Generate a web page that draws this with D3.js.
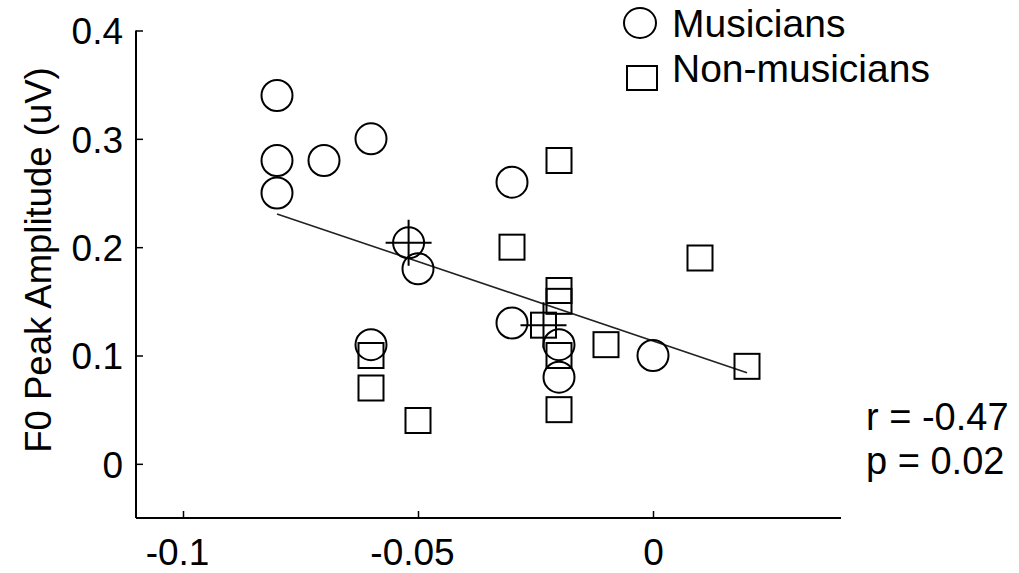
<!DOCTYPE html>
<html>
<head>
<meta charset="utf-8">
<script src="https://cdn.jsdelivr.net/npm/d3@7"></script>
<style>
  html, body { margin: 0; padding: 0; background: #fff; }
  svg { display: block; }
  text { font-family: "Liberation Sans", Arial, Helvetica, sans-serif; fill: #000; }
</style>
</head>
<body>
<svg id="chart" width="1019" height="573"></svg>
<script>
// ---- Data ----
const musiciansX = [-0.08, -0.08, -0.08, -0.07, -0.06, -0.05, -0.03, -0.03, -0.02, -0.02, 0.00, -0.06];
const musiciansY = [0.34, 0.28, 0.25, 0.28, 0.30, 0.18, 0.26, 0.13, 0.11, 0.08, 0.10, 0.11];
const nonMusiciansX = [-0.02, -0.03, 0.01, -0.02, -0.02, -0.02, -0.02, -0.01, 0.02, -0.06, -0.06, -0.05];
const nonMusiciansY = [0.28, 0.20, 0.19, 0.16, 0.15, 0.10, 0.05, 0.11, 0.09, 0.10, 0.07, 0.04];
const musicianMean = [-0.052, 0.204];
const nonMusicianMean = [-0.0233, 0.128];
const fitLineX = [-0.08, 0.02];
const fitLineY = [0.2307, 0.0841];
const xTicks = [-0.1, -0.05, 0];
const xTickLabels = ["-0.1", "-0.05", "0"];
const yTicks = [0, 0.1, 0.2, 0.3, 0.4];
const yTickLabels = ["0", "0.1", "0.2", "0.3", "0.4"];
const legendLabels = ["Musicians", "Non-musicians"];
const statsLabels = ["r = -0.47", "p = 0.02"];
const yAxisTitle = "F0 Peak Amplitude (uV)";

// ---- Layout ----
const svg = d3.select("#chart");
const x = d3.scaleLinear().domain([-0.11, 0.04]).range([136, 841]);
const y = d3.scaleLinear().domain([-0.05, 0.4]).range([518, 30.5]);
const FS = 37;

// axes
const xAxis = d3.axisBottom(x).tickValues(xTicks).tickSize(-7).tickSizeOuter(0)
  .tickFormat((d, i) => xTickLabels[i]);
const gx = svg.append("g").attr("transform", `translate(0,${y(-0.05)})`).call(xAxis);
gx.select(".domain").attr("stroke", "#000").attr("stroke-width", 2)
  .attr("d", `M${x(-0.11)},0H${x(0.04)}`);
gx.selectAll(".tick line").attr("stroke", "#000").attr("stroke-width", 1.5);
gx.selectAll(".tick text").attr("font-size", FS).attr("y", 47).attr("dy", 0)
  .attr("dx", (d, i) => xTickLabels[i].startsWith("-") ? -6 : 0)
  .attr("font-family", "Liberation Sans, Arial, sans-serif");

const yAxis = d3.axisLeft(y).tickValues(yTicks).tickSize(-7).tickSizeOuter(0)
  .tickFormat((d, i) => yTickLabels[i]);
const gy = svg.append("g").attr("transform", `translate(${x(-0.11)},0)`).call(yAxis);
gy.select(".domain").attr("stroke", "#000").attr("stroke-width", 2)
  .attr("d", `M0,${y(0.4)}V${y(-0.05)}`);
gy.selectAll(".tick line").attr("stroke", "#000").attr("stroke-width", 1.5);
gy.selectAll(".tick text").attr("font-size", FS).attr("x", -13).attr("dy", "0.36em")
  .attr("font-family", "Liberation Sans, Arial, sans-serif");

// y axis title
svg.append("text")
  .attr("transform", `translate(51,260) rotate(-90)`)
  .attr("text-anchor", "middle")
  .attr("font-size", 36.5)
  .text(yAxisTitle);

// regression line
const fitData = fitLineX.map((v, i) => [v, fitLineY[i]]);
svg.append("path")
  .datum(fitData)
  .attr("d", d3.line().x(d => x(d[0])).y(d => y(d[1])))
  .attr("fill", "none").attr("stroke", "#222").attr("stroke-width", 1.6);

// musicians circles
const mData = musiciansX.map((v, i) => [v, musiciansY[i]]);
svg.append("g").selectAll("circle").data(mData).join("circle")
  .attr("cx", d => x(d[0])).attr("cy", d => y(d[1])).attr("r", 15.5)
  .attr("fill", "none").attr("stroke", "#000").attr("stroke-width", 2);

// non-musician squares
const nData = nonMusiciansX.map((v, i) => [v, nonMusiciansY[i]]);
const S = 25;
svg.append("g").selectAll("rect").data(nData).join("rect")
  .attr("x", d => x(d[0]) - S / 2).attr("y", d => y(d[1]) - S / 2)
  .attr("width", S).attr("height", S)
  .attr("fill", "none").attr("stroke", "#000").attr("stroke-width", 2);

// mean markers
svg.append("circle")
  .attr("cx", x(musicianMean[0])).attr("cy", y(musicianMean[1])).attr("r", 15.5)
  .attr("fill", "none").attr("stroke", "#000").attr("stroke-width", 2);
svg.append("rect")
  .attr("x", x(nonMusicianMean[0]) - S / 2).attr("y", y(nonMusicianMean[1]) - S / 2)
  .attr("width", S).attr("height", S)
  .attr("fill", "none").attr("stroke", "#000").attr("stroke-width", 2);
const crossLen = 23;
[musicianMean, nonMusicianMean].forEach(m => {
  const cx = x(m[0]), cy = y(m[1]);
  svg.append("path")
    .attr("d", `M${cx - crossLen},${cy}H${cx + crossLen}M${cx},${cy - crossLen}V${cy + crossLen}`)
    .attr("stroke", "#000").attr("stroke-width", 2).attr("fill", "none");
});

// legend
const lg = svg.append("g");
lg.append("ellipse").attr("cx", 640).attr("cy", 23).attr("rx", 16).attr("ry", 15)
  .attr("fill", "none").attr("stroke", "#000").attr("stroke-width", 2);
lg.append("rect").attr("x", 627).attr("y", 66).attr("width", 30).attr("height", 24)
  .attr("fill", "none").attr("stroke", "#000").attr("stroke-width", 2);
lg.selectAll("text").data(legendLabels).join("text")
  .attr("x", 672).attr("y", (d, i) => 37 + i * 45)
  .attr("font-size", 39).text(d => d);

// stats
svg.selectAll("text.stat").data(statsLabels).join("text").attr("class", "stat")
  .attr("x", 866).attr("y", (d, i) => 430 + i * 44)
  .attr("font-size", 38).text(d => d);
</script>
</body>
</html>
